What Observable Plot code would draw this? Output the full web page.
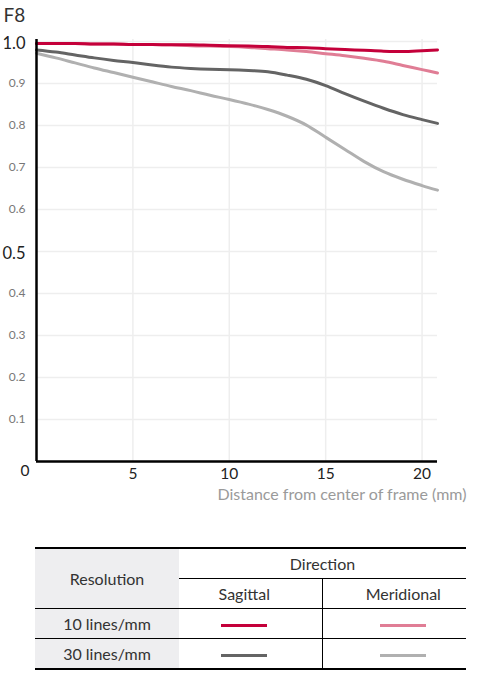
<!DOCTYPE html>
<html>
<head>
<meta charset="utf-8">
<script src="https://cdn.jsdelivr.net/npm/d3@7"></script>
<script src="https://cdn.jsdelivr.net/npm/@observablehq/plot@0.6"></script>
<style>
  body { margin: 0; background: #fff; font-family: Lato, "Open Sans", sans-serif; }
  #chart svg { display: block; }
  table.legend {
    border-collapse: collapse;
    table-layout: fixed;
    margin: 32px 0 0 35px;
    width: 431px;
    font-size: 16px;
    color: #333;
    text-align: center;
  }
  table.legend td { height: 29px; padding: 0; border: 1px solid #000; line-height: 1; }
  table.legend tr:first-child td { border-top: 2.5px solid #000; }
  table.legend tr:last-child td { border-bottom: 2.5px solid #000; }
  table.legend td { border-left: none; border-right: none; }
  table.legend td.sag { border-right: 1px solid #000; padding-right: 12px; }
  table.legend td.mer { padding-left: 18px; }
  table.legend td.res { background: #eeeef0; }
  table.legend td.dir { border-bottom: 1px solid #000; }
  .sw { display: inline-block; width: 46px; height: 3px; vertical-align: middle; }
</style>
</head>
<body>
<div id="chart"></div>
<div id="legend"></div>
<script>
// distance from center of frame (mm)
const distance = [0, 1, 2, 3, 4, 5, 6, 7, 8, 9, 10, 11, 12, 13, 14, 15, 16, 17, 18, 19, 20, 20.8];

// MTF values
const sag10 = [0.995, 0.995, 0.995, 0.994, 0.994, 0.993, 0.993, 0.992, 0.992, 0.991, 0.990, 0.989, 0.988, 0.986, 0.985, 0.983, 0.981, 0.979, 0.977, 0.976, 0.978, 0.980];
const mer10 = [0.995, 0.995, 0.995, 0.994, 0.994, 0.993, 0.993, 0.992, 0.990, 0.989, 0.988, 0.986, 0.983, 0.980, 0.976, 0.971, 0.966, 0.960, 0.953, 0.943, 0.933, 0.925];
const sag30 = [0.980, 0.975, 0.968, 0.961, 0.955, 0.950, 0.944, 0.939, 0.936, 0.934, 0.933, 0.931, 0.928, 0.920, 0.910, 0.895, 0.876, 0.858, 0.841, 0.826, 0.814, 0.805];
const mer30 = [0.972, 0.961, 0.949, 0.937, 0.926, 0.915, 0.904, 0.893, 0.883, 0.872, 0.862, 0.851, 0.838, 0.822, 0.801, 0.772, 0.743, 0.714, 0.690, 0.672, 0.657, 0.646];

const seriesNames = ["30 lines/mm Meridional", "30 lines/mm Sagittal", "10 lines/mm Meridional", "10 lines/mm Sagittal"];
const seriesValues = [mer30, sag30, mer10, sag10];
const seriesColors = ["#b0b0b0", "#646464", "#e07d95", "#c4003a"];

const xTicks = [5, 10, 15, 20];
const yTicksSmall = [0.1, 0.2, 0.3, 0.4, 0.6, 0.7, 0.8, 0.9];
const yTicksBig = [0.5, 1.0];

const rows = seriesNames.flatMap((name, i) =>
  distance.map((d, j) => ({series: name, x: d, y: seriesValues[i][j]}))
);

const chart = Plot.plot({
  width: 503,
  height: 515,
  marginLeft: 36,
  marginRight: 66,
  marginTop: 41,
  marginBottom: 54,
  x: {domain: [0, 20.8]},
  y: {domain: [0, 1]},
  color: {domain: seriesNames, range: seriesColors},
  style: {fontFamily: "Lato, sans-serif", background: "#fff", overflow: "visible"},
  marks: [
    Plot.ruleX(xTicks, {y1: 0, y2: 1.005, stroke: "#eeeeee", strokeWidth: 1.5}),
    Plot.ruleY(yTicksSmall.concat(yTicksBig), {stroke: "#eeeeee", strokeWidth: 1.5}),
    Plot.axisX(xTicks, {tickSize: 0, tickPadding: 6, fontSize: 15.5, fill: "#222", label: null}),
    Plot.axisY(yTicksSmall, {tickSize: 0, tickPadding: 11, fontSize: 12, fill: "#777", tickFormat: ".1f", label: null}),
    Plot.axisY(yTicksBig, {tickSize: 0, tickPadding: 11, dy: 2, fontSize: 16.5, fill: "#222", tickFormat: ".1f", label: null}),
    Plot.line(rows, {x: "x", y: "y", z: "series", stroke: "series", strokeWidth: 3, curve: "monotone-x"}),
    Plot.ruleX([0], {y1: 0, y2: 1.005, stroke: "#000", strokeWidth: 2.5}),
    Plot.ruleY([0], {stroke: "#000", strokeWidth: 2.5}),
    Plot.text(["F8"], {frameAnchor: "top-left", dx: -33, dy: -33, textAnchor: "start", fontSize: 19, fill: "#333"}),
    Plot.text(["0"], {frameAnchor: "bottom-left", dx: -16, dy: 14, fontSize: 15.5, fill: "#222"}),
    Plot.text(["Distance from center of frame (mm)"], {frameAnchor: "bottom-right", dx: 29, dy: 38, textAnchor: "end", fontSize: 16, fill: "#9a9a9a"})
  ]
});

document.getElementById("chart").append(chart);

// legend table
const legendRows = ["10 lines/mm", "30 lines/mm"];
const legend = document.createElement("table");
legend.className = "legend";
legend.innerHTML = `
  <colgroup><col style="width:144px"><col style="width:143px"><col style="width:144px"></colgroup>
  <tr><td class="res" rowspan="2">Resolution</td><td class="dir" colspan="2">Direction</td></tr>
  <tr><td class="sag">Sagittal</td><td class="mer">Meridional</td></tr>
  ${legendRows.map((r, i) => `
  <tr><td class="res">${r}</td>
      <td class="sag"><span class="sw" style="background:${seriesColors[3 - 2 * i]}"></span></td>
      <td class="mer"><span class="sw" style="background:${seriesColors[2 - 2 * i]}"></span></td></tr>`).join("")}
`;
document.getElementById("legend").append(legend);
</script>
</body>
</html>
